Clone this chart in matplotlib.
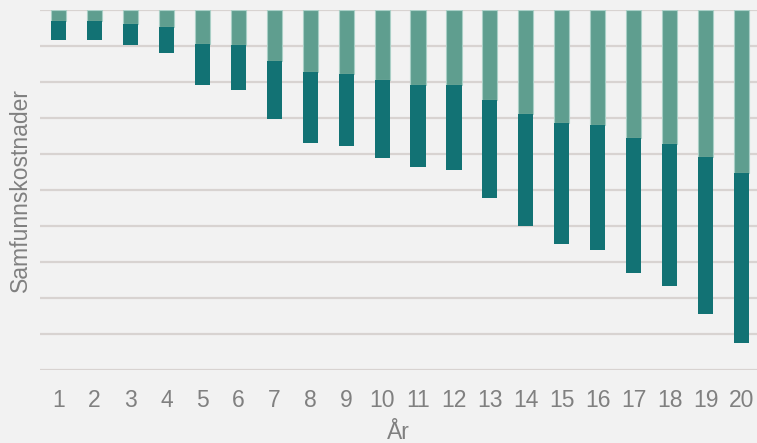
import matplotlib.pyplot as plt
import numpy as np

plt.rcParams['font.family'] = ['Liberation Sans', 'DejaVu Sans']

years = list(range(1, 21))
# light (upper) and dark (lower) cost segments, negative direction
light = [0.30, 0.30, 0.39, 0.46, 0.94, 0.98, 1.41, 1.72, 1.77, 1.94,
         2.08, 2.09, 2.50, 2.89, 3.13, 3.20, 3.55, 3.71, 4.09, 4.52]
dark = [0.52, 0.52, 0.58, 0.73, 1.14, 1.23, 1.62, 1.98, 2.01, 2.16,
        2.27, 2.35, 2.71, 3.11, 3.36, 3.46, 3.75, 3.95, 4.35, 4.72]

bg = '#f2f2f2'
text_col = '#808080'

fig = plt.figure(figsize=(7.57, 4.43), dpi=100, facecolor=bg)
ax = fig.add_axes([40 / 757, 73 / 443, 717 / 757, 360 / 443])
ax.set_facecolor(bg)

x = np.array(years)
neg_light = -np.array(light)
neg_dark = -np.array(dark)
ax.bar(x, neg_light, width=0.42, color='#5f9e8f', edgecolor='#a9cfc6',
       linewidth=0.8, zorder=3)
ax.bar(x, neg_dark, bottom=neg_light, width=0.42, color='#127274',
       linewidth=0, zorder=3)

ax.set_ylim(-10, 0)
ax.set_xlim(0.485, 20.43)
ax.set_yticks(np.arange(-10, 1, 1))
ax.set_yticklabels([])
ax.set_xticks(years)
ax.set_xticklabels([str(y) for y in years])
ax.grid(axis='y', color='#d8d3d1', linewidth=1.6, zorder=0)
ax.set_axisbelow(True)
ax.tick_params(length=0, labelsize=16.5, labelcolor=text_col, pad=14)
for s in ax.spines.values():
    s.set_visible(False)

ax.set_ylabel('Samfunnskostnader', fontsize=16.5, color=text_col)
ax.set_xlabel('År', fontsize=16.5, color=text_col, va='top')
ax.yaxis.set_label_coords(-0.011, 0.5)
ax.xaxis.set_label_coords(0.5, -0.142)

fig.savefig('out.png', dpi=100, facecolor=bg)
